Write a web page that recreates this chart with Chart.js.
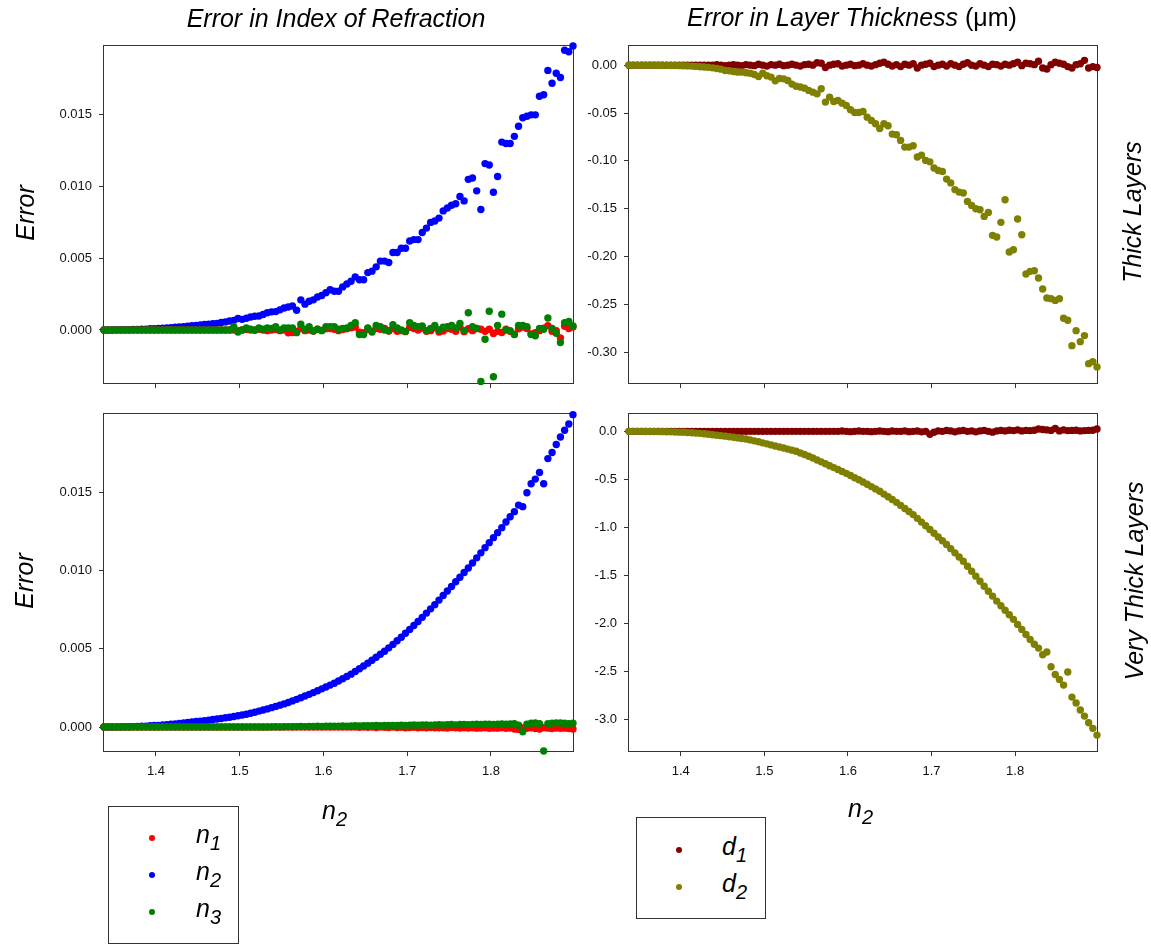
<!DOCTYPE html>
<html>
<head>
<meta charset="utf-8">
<title>Fit errors versus n2</title>
<script src="https://cdn.jsdelivr.net/npm/chart.js@4.4.0/dist/chart.umd.min.js"></script>
<style>
    body { margin: 0; background: #fff; }
    #page { position: relative; width: 1151px; height: 945px; overflow: hidden; font-family: "Liberation Sans", Arial, sans-serif; color: #000; }
    canvas { position: absolute; }
    .lbl { position: absolute; white-space: nowrap; font-style: italic; font-size: 25px; line-height: 25px; }
    .center { transform: translateX(-50%); }
    .vert { transform: translate(-50%, -50%) rotate(-90deg); }
    .sub { font-size: 20px; position: relative; top: 7px; }
    .upright { font-style: normal; }
    .legendBox { position: absolute; border: 1px solid #333; box-sizing: border-box; }
    .dot { position: absolute; width: 6px; height: 6px; border-radius: 50%; margin: -3px 0 0 -3px; }
</style>
</head>
<body>
<div id="page">
    <canvas id="thickIndex" width="600" height="420" style="left:0;top:0"></canvas>
    <canvas id="thickLayer" width="576" height="420" style="left:575px;top:0"></canvas>
    <canvas id="veryThickIndex" width="600" height="420" style="left:0;top:380px"></canvas>
    <canvas id="veryThickLayer" width="576" height="420" style="left:575px;top:380px"></canvas>

    <div class="lbl center" style="left:336px;top:6px">Error in Index of Refraction</div>
    <div class="lbl center" style="left:852px;top:5px">Error in Layer Thickness <span class="upright">(μm)</span></div>

    <div class="lbl vert" style="left:25px;top:213px">Error</div>
    <div class="lbl vert" style="left:24px;top:581px">Error</div>
    <div class="lbl vert" style="left:1132px;top:212px">Thick Layers</div>
    <div class="lbl vert" style="left:1134px;top:581px">Very Thick Layers</div>

    <div class="lbl" style="left:322px;top:798px">n<span class="sub">2</span></div>
    <div class="lbl" style="left:848px;top:796px">n<span class="sub">2</span></div>

    <div class="legendBox" style="left:108px;top:806px;width:131px;height:138px"></div>
    <div class="legendBox" style="left:636px;top:817px;width:130px;height:102px"></div>
    <div id="legends"></div>
</div>

<script>
// n2 sample grid shared by all four panels
const nGrid = [
    1.338, 1.343, 1.348, 1.353, 1.358, 1.363, 1.368, 1.373, 1.378, 1.383,
    1.388, 1.393, 1.398, 1.403, 1.408, 1.413, 1.418, 1.423, 1.428, 1.433,
    1.438, 1.443, 1.448, 1.453, 1.458, 1.463, 1.468, 1.473, 1.478, 1.483,
    1.488, 1.493, 1.498, 1.503, 1.508, 1.513, 1.518, 1.523, 1.528, 1.533,
    1.538, 1.543, 1.548, 1.553, 1.558, 1.563, 1.568, 1.573, 1.578, 1.583,
    1.588, 1.593, 1.598, 1.603, 1.608, 1.613, 1.618, 1.623, 1.628, 1.633,
    1.638, 1.643, 1.648, 1.653, 1.658, 1.663, 1.668, 1.673, 1.678, 1.683,
    1.688, 1.693, 1.698, 1.703, 1.708, 1.713, 1.718, 1.723, 1.728, 1.733,
    1.738, 1.743, 1.748, 1.753, 1.758, 1.763, 1.768, 1.773, 1.778, 1.783,
    1.788, 1.793, 1.798, 1.803, 1.808, 1.813, 1.818, 1.823, 1.828, 1.833,
    1.838, 1.843, 1.848, 1.853, 1.858, 1.863, 1.868, 1.873, 1.878, 1.883,
    1.888, 1.893, 1.898
];

// thick layers
const thickN1 = [
    0, 0, 0, 0, 0, 0, 0, 0, 0, 0,
    0, 0, 0, 0, 0, 0, 0, 0, 0, 0,
    0, 0, 0, 0, 0, 0, 0, 0, 0, 0,
    0, 0, -0.00005, 0, 0.00003, 0, -0.00003, 0.00005, 0, -0.00005,
    0, 0.00003, -0.00005, 0, -0.0002, -0.00018, -0.0001, 0.0001, -0.00005, 0,
    -0.00007, 0.00005, -0.00003, 0.00008, 0.0001, 0.00005, -0.00005, 0.00003, 0.00008, 0.00015,
    0.0002, -0.00015, -0.0002, 0.00005, -0.00008, 0.0001, 0.00005, 0.0001, -0.00008, 0.0001,
    -0.0001, -0.00005, -0.00012, 0.00018, 0.0001, 0, 0.00012, -0.0001, -0.00005, 0.00015,
    -0.00015, -0.00008, 0.0001, 0.00005, -0.0001, 0.0002, -0.00012, 0.00008, -0.00005, 0.0001,
    0.00005, -0.0001, 0.00005, -0.00025, -0.0001, -0.00018, 0.00005, -0.0001, -0.0003, 0.00008,
    0.0002, 0.0001, -0.00028, -0.0002, -0.00005, 0.00012, 0.0003, -0.0001, -0.00005, -0.00055,
    0.00025, 0.0001, 0.0002
];
const thickN2 = [
    0, 0, 0, 0.00001, 0.00001, 0.00002, 0.00002, 0.00003, 0.00004, 0.00005,
    0.00006, 0.00008, 0.00009, 0.00011, 0.00012, 0.00014, 0.00016, 0.00019, 0.00021, 0.00023,
    0.00026, 0.00029, 0.00032, 0.00035, 0.00038, 0.0004, 0.00043, 0.00046, 0.00052, 0.00056,
    0.00062, 0.00067, 0.0008, 0.00074, 0.00082, 0.0009, 0.00095, 0.00097, 0.00108, 0.0012,
    0.00126, 0.00128, 0.0014, 0.00153, 0.0016, 0.00167, 0.00137, 0.0021, 0.0018, 0.002,
    0.0021, 0.0023, 0.0024, 0.0026, 0.0028, 0.0027, 0.0027, 0.003, 0.0032, 0.0034,
    0.0037, 0.0035, 0.0035, 0.004, 0.0041, 0.0044, 0.0048, 0.0048, 0.0047, 0.0054,
    0.0054, 0.0057, 0.0057, 0.0062, 0.0063, 0.0063, 0.0068, 0.0071, 0.0075, 0.0076,
    0.0078, 0.0083, 0.0085, 0.0087, 0.0088, 0.0093, 0.009, 0.0105, 0.0106, 0.0097,
    0.0084, 0.0116, 0.0115, 0.0096, 0.0107, 0.0131, 0.013, 0.013, 0.0135, 0.0142,
    0.0148, 0.0149, 0.015, 0.015, 0.0163, 0.0164, 0.0181, 0.0172, 0.0179, 0.0176,
    0.0195, 0.0194, 0.0198
];
const thickN3 = [
    0, 0, 0, 0, 0, 0, 0, 0, 0, 0,
    0, 0, 0, 0, 0, 0, 0, 0, 0, 0,
    0, 0, 0, 0, 0, 0, 0, 0, 0, 0,
    0, 0.00023, -0.00014, 0, 0.00014, 0.00005, 0, 0.00014, 0.00005, 0.00014,
    0.0001, 0.00023, 0, 0.00014, 0.00014, 0.00014, -0.00019, 0.0004, 0.00005, 0.00023,
    -0.00007, 0.00005, -0.00005, 0.00023, 0.00023, 0.00023, 0.00005, 0.0001, 0.00014, 0.00032,
    0.0005, -0.00032, -0.00032, 0.00014, -0.00014, 0.00032, 0.00023, 0, -0.00005, 0.00037,
    0.00014, 0, -0.0001, 0.0005, 0.00032, 0.00023, 0.00028, -0.00005, 0.0001, 0.00032,
    0, 0.00019, 0.00023, 0.00032, 0.00014, 0.00046, -0.00005, 0.0012, 0.00023, 0.0001,
    -0.0036, -0.00065, 0.0013, -0.00326, 0.00032, 0.0011, 0, -0.00005, -0.00032, 0.00032,
    0.00032, 0.00023, -0.00032, -0.0004, 0.0001, 0.00005, 0.00083, 0.0001, -0.00023, -0.00088,
    0.0005, 0.0006, 0.00028
];
const thickD1 = [
    0, 0, 0, 0, 0, 0, 0, 0, 0, 0,
    0, 0, 0, 0, 0, 0, 0, 0, 0, 0,
    0, 0.0005, 0, -0.0005, 0, 0.0005, 0, -0.0005, 0.0005, 0,
    -0.0005, 0.001, 0, -0.001, 0.0005, 0, 0.001, -0.0005, 0, 0.001,
    0, -0.001, 0.0005, 0.001, 0, 0.0025, 0.002, -0.0025, 0, 0.001,
    0.0015, -0.001, 0, 0.001, -0.0005, 0, 0.0015, 0, -0.001, 0.0005,
    0.002, 0.003, 0.001, -0.001, 0.0005, -0.0015, 0.001, 0, 0.0015, -0.003,
    0, 0.001, 0.002, -0.0015, 0, 0.001, -0.001, 0.0015, 0, -0.0015,
    0.001, 0.0025, 0, -0.001, 0.0015, 0, -0.0015, 0.001, 0.0005, -0.001,
    0.001, 0, 0.0015, 0.003, -0.0005, 0.002, 0.0015, 0.0005, 0.004, -0.003,
    -0.004, 0.0005, 0.003, 0.002, 0.001, -0.0015, -0.003, 0.0005, 0.0015, 0.005,
    -0.003, -0.0015, -0.0025
];
const thickD2 = [
    0, 0, 0, 0, 0, 0, 0, -0.0001, -0.0001, -0.0002,
    -0.0003, -0.0004, -0.0005, -0.0006, -0.0008, -0.001, -0.0013, -0.0016, -0.002, -0.0023,
    -0.0028, -0.0035, -0.0042, -0.0056, -0.0058, -0.0066, -0.0073, -0.0072, -0.008, -0.0084,
    -0.0098, -0.0118, -0.0084, -0.011, -0.0125, -0.0164, -0.014, -0.0143, -0.016, -0.0198,
    -0.022, -0.0228, -0.024, -0.0264, -0.0282, -0.03, -0.0247, -0.0386, -0.0334, -0.038,
    -0.0369, -0.0397, -0.0421, -0.0466, -0.0494, -0.0494, -0.0484, -0.0543, -0.0578, -0.0612,
    -0.0661, -0.0612, -0.0633, -0.072, -0.0727, -0.0786, -0.0856, -0.0856, -0.0842, -0.096,
    -0.094, -0.0995, -0.101, -0.1075, -0.11, -0.111, -0.119, -0.123, -0.13, -0.1326,
    -0.1336, -0.1423, -0.1465, -0.15, -0.151, -0.158, -0.1538, -0.1778, -0.1795, -0.1642,
    -0.1406, -0.1952, -0.1928, -0.1607, -0.1771, -0.2182, -0.2154, -0.2147, -0.2223, -0.2338,
    -0.2432, -0.2439, -0.2457, -0.2439, -0.2644, -0.2665, -0.293, -0.2773, -0.2888, -0.2825,
    -0.3118, -0.3097, -0.3152
];

// very thick layers
const veryThickN1 = [
    0, 0, 0, 0, 0, 0, 0, 0, 0, 0,
    0, 0, 0, 0, 0, 0, 0, 0, 0, 0,
    0, 0, 0, 0, 0, 0, 0, 0, 0, 0,
    0, 0, 0, 0, 0, 0, 0, 0, 0, 0,
    0, 0, 0, 0, 0, 0, 0, 0, 0, 0,
    0, 0, 0, 0, 0, 0, 0, 0, 0, 0,
    0, -0.00002, 0, -0.00002, 0, -0.00003, 0, -0.00002, -0.00003, 0,
    -0.00003, -0.00002, -0.00004, -0.00003, -0.00002, -0.00004, -0.00003, -0.00005, -0.00003, -0.00004,
    -0.00005, -0.00004, -0.00006, -0.00003, -0.00005, -0.00006, -0.00004, -0.00006, -0.00005, -0.00007,
    -0.00006, -0.00005, -0.00008, -0.00006, -0.00007, -0.00005, -0.00008, -0.00006, -0.00012, -0.00015,
    -0.00006, -0.00008, -0.00005, -0.0001, -0.00012, -0.00004, -0.00007, -0.00009, -0.00006, -0.00008,
    -0.00007, -0.0001, -0.00012
];
const veryThickN2 = [
    0, 0, 0, 0.00001, 0.00001, 0.00002, 0.00002, 0.00003, 0.00004, 0.00005,
    0.00006, 0.00008, 0.0001, 0.00011, 0.00013, 0.00015, 0.00018, 0.0002, 0.00023, 0.00026,
    0.00029, 0.00032, 0.00035, 0.00038, 0.00041, 0.00044, 0.00048, 0.00051, 0.00055, 0.00059,
    0.00063, 0.00067, 0.00072, 0.00077, 0.00082, 0.00088, 0.00095, 0.00102, 0.00109, 0.00116,
    0.00124, 0.00132, 0.0014, 0.00148, 0.00157, 0.00167, 0.00177, 0.00187, 0.00198, 0.00209,
    0.0022, 0.00232, 0.00244, 0.00256, 0.00268, 0.0028, 0.00294, 0.00309, 0.00323, 0.00338,
    0.00355, 0.00372, 0.0039, 0.00408, 0.00427, 0.00446, 0.00465, 0.00484, 0.00506, 0.00528,
    0.00551, 0.00574, 0.00599, 0.00624, 0.00649, 0.00674, 0.00701, 0.00728, 0.00755, 0.00782,
    0.00811, 0.0084, 0.00869, 0.00898, 0.00928, 0.00957, 0.00987, 0.01016, 0.01048, 0.01081,
    0.01113, 0.01146, 0.01178, 0.0121, 0.01242, 0.01274, 0.0131, 0.01344, 0.01376, 0.01418,
    0.01408, 0.01497, 0.01554, 0.01584, 0.01626, 0.01554, 0.01715, 0.01754, 0.01805, 0.01853,
    0.01896, 0.01936, 0.01996
];
const veryThickN3 = [
    0, 0, 0, 0, 0, 0, 0, 0, 0, 0,
    0, 0, 0, 0, 0, 0, 0, 0, 0, 0,
    0, 0, 0, 0, 0, 0, 0, 0, 0, 0,
    0, 0, 0, 0, 0, 0, 0, 0, 0, 0,
    0.00001, 0.00002, 0.00001, 0.00002, 0.00003, 0.00002, 0.00003, 0.00004, 0.00003, 0.00004,
    0.00004, 0.00005, 0.00004, 0.00005, 0.00006, 0.00005, 0.00006, 0.00007, 0.00006, 0.00007,
    0.00008, 0.00007, 0.00008, 0.00009, 0.00008, 0.0001, 0.00009, 0.0001, 0.00011, 0.0001,
    0.00011, 0.00012, 0.00011, 0.00012, 0.00013, 0.00012, 0.00013, 0.00014, 0.00012, 0.00014,
    0.00015, 0.00013, 0.00015, 0.00016, 0.00014, 0.00016, 0.00017, 0.00015, 0.00017, 0.00018,
    0.00016, 0.00018, 0.00019, 0.00017, 0.00019, 0.0002, 0.00018, 0.0002, 0.00022, 0.00012,
    -0.0003, 0.00018, 0.00024, 0.00026, 0.00022, -0.00153, 0.00021, 0.00025, 0.00027, 0.00026,
    0.00024, 0.00022, 0.00025
];
const veryThickD1 = [
    0, 0, 0, 0, 0, 0, 0, 0, 0, 0,
    0, 0, 0, 0, 0, 0, 0, 0, 0, 0,
    0, 0, 0, 0, 0, 0, 0, 0, 0, 0,
    0, 0, 0, 0, 0, 0, 0, 0, 0, 0,
    0, 0, 0, 0, 0, 0, 0, 0, 0, 0,
    0, 0.003, 0, -0.003, 0, 0.003, 0, 0, -0.003, 0,
    0.003, 0, -0.003, 0.003, 0, 0, 0.005, -0.003, 0, 0.003,
    -0.005, 0, -0.03, -0.01, 0.005, 0, 0.01, 0.005, -0.005, 0.005,
    0.01, 0, 0.005, -0.005, 0.005, 0.01, 0, -0.008, 0.005, 0.01,
    0.005, 0.012, 0.008, 0.015, 0.005, 0.01, 0.008, 0.012, 0.025, 0.02,
    0.015, 0.01, 0.03, 0.005, 0.015, 0.008, 0.01, 0.012, 0.005, 0.008,
    0.01, 0.012, 0.025
];
const veryThickD2 = [
    0, 0, 0, 0, -0.001, -0.001, -0.002, -0.002, -0.003, -0.004,
    -0.005, -0.006, -0.008, -0.01, -0.013, -0.015, -0.018, -0.021, -0.025, -0.03,
    -0.035, -0.04, -0.045, -0.05, -0.056, -0.062, -0.068, -0.074, -0.08, -0.089,
    -0.099, -0.109, -0.12, -0.13, -0.141, -0.152, -0.163, -0.174, -0.185, -0.196,
    -0.208, -0.225, -0.242, -0.26, -0.278, -0.298, -0.318, -0.338, -0.358, -0.378,
    -0.398, -0.418, -0.438, -0.46, -0.483, -0.505, -0.528, -0.552, -0.576, -0.6,
    -0.625, -0.654, -0.682, -0.711, -0.74, -0.772, -0.804, -0.836, -0.868, -0.907,
    -0.946, -0.985, -1.024, -1.063, -1.102, -1.141, -1.18, -1.223, -1.267, -1.31,
    -1.354, -1.406, -1.458, -1.51, -1.563, -1.615, -1.667, -1.718, -1.77, -1.818,
    -1.865, -1.913, -1.96, -2.013, -2.065, -2.118, -2.17, -2.22, -2.26, -2.33,
    -2.3, -2.455, -2.535, -2.587, -2.646, -2.51, -2.771, -2.833, -2.906, -2.969,
    -3.038, -3.097, -3.167
];

// tick labels
const nTicks = [1.4, 1.5, 1.6, 1.7, 1.8];
const indexTicks = [0, 0.005, 0.010, 0.015];
const thickLayerTicks = [0, -0.05, -0.10, -0.15, -0.20, -0.25, -0.30];
const veryThickLayerTicks = [0, -0.5, -1.0, -1.5, -2.0, -2.5, -3.0];

const seriesColors = { n1: '#ff0000', n2: '#0000ff', n3: '#008000', d1: '#800000', d2: '#808000' };

const tickFont = { family: '"Liberation Sans", Arial, sans-serif', size: 13 };

// box around the plotting area, drawn under the points
const framePlugin = {
    id: 'frame',
    beforeDatasetsDraw(chart) {
        const a = chart.chartArea;
        const ctx = chart.ctx;
        ctx.save();
        ctx.strokeStyle = '#333';
        ctx.lineWidth = 1;
        ctx.strokeRect(Math.round(a.left) - 0.5, Math.round(a.top) - 0.5,
            Math.round(a.right - a.left) + 1, Math.round(a.bottom - a.top) + 1);
        ctx.restore();
    }
};

function makePanel(id, panel) {
    const datasets = panel.series.map(s => ({
        data: nGrid.map((x, i) => ({ x: x, y: s.values[i] })),
        backgroundColor: s.color,
        borderWidth: 0,
        pointRadius: 3.7,
        pointHoverRadius: 3.7,
        pointBorderWidth: 0,
        order: s.order,
        clip: false
    }));

    return new Chart(document.getElementById(id), {
        type: 'scatter',
        data: { datasets },
        options: {
            responsive: false,
            animation: false,
            events: [],
            layout: { padding: panel.padding },
            plugins: {
                legend: { display: false },
                tooltip: { enabled: false }
            },
            scales: {
                x: {
                    type: 'linear',
                    min: 1.338,
                    max: 1.898,
                    afterBuildTicks: scale => { scale.ticks = nTicks.map(v => ({ value: v })); },
                    afterFit: scale => { scale.height = 30; },
                    border: { display: false },
                    grid: { drawOnChartArea: false, drawTicks: true, tickLength: 5, color: '#333' },
                    ticks: {
                        display: panel.showX,
                        padding: 8,
                        color: '#111',
                        font: tickFont,
                        maxRotation: 0,
                        callback: v => v.toFixed(1)
                    }
                },
                y: {
                    min: panel.yMin,
                    max: panel.yMax,
                    afterBuildTicks: scale => { scale.ticks = panel.yTicks.map(v => ({ value: v })); },
                    afterFit: scale => { scale.width = panel.yWidth; },
                    border: { display: false },
                    grid: { drawOnChartArea: false, drawTicks: true, tickLength: 5, color: '#333' },
                    ticks: {
                        padding: 7,
                        color: '#111',
                        font: tickFont,
                        callback: v => v.toFixed(panel.digits)
                    }
                }
            }
        },
        plugins: [framePlugin]
    });
}

function indexSeries(n1, n2, n3) {
    return [
        { values: n1, color: seriesColors.n1, order: 1 },
        { values: n2, color: seriesColors.n2, order: 2 },
        { values: n3, color: seriesColors.n3, order: 0 }
    ];
}

function layerSeries(d1, d2) {
    return [
        { values: d1, color: seriesColors.d1, order: 1 },
        { values: d2, color: seriesColors.d2, order: 0 }
    ];
}

function renderLegends() {
    const rows = [
        { x: 152, y: 838, tx: 196, key: 'n1', letter: 'n', idx: '1' },
        { x: 152, y: 875, tx: 196, key: 'n2', letter: 'n', idx: '2' },
        { x: 152, y: 912, tx: 196, key: 'n3', letter: 'n', idx: '3' },
        { x: 679, y: 850, tx: 722, key: 'd1', letter: 'd', idx: '1' },
        { x: 679, y: 887, tx: 722, key: 'd2', letter: 'd', idx: '2' }
    ];
    document.getElementById('legends').innerHTML = rows.map(r => `
        <div class="dot" style="left:${r.x}px;top:${r.y}px;background:${seriesColors[r.key]}"></div>
        <div class="lbl" style="left:${r.tx}px;top:${r.y + 5 - 21}px">${r.letter}<span class="sub">${r.idx}</span></div>
    `).join('');
}

document.addEventListener('DOMContentLoaded', () => {
    makePanel('thickIndex', {
        series: indexSeries(thickN1, thickN2, thickN3),
        yMin: -0.0037, yMax: 0.0198, yTicks: indexTicks, digits: 3,
        yWidth: 60, showX: false,
        padding: { left: 44, top: 46, right: 27, bottom: 7 }
    });
    makePanel('thickLayer', {
        series: layerSeries(thickD1, thickD2),
        yMin: -0.332, yMax: 0.020, yTicks: thickLayerTicks, digits: 2,
        yWidth: 50, showX: false,
        padding: { left: 4, top: 46, right: 54, bottom: 7 }
    });
    makePanel('veryThickIndex', {
        series: indexSeries(veryThickN1, veryThickN2, veryThickN3),
        yMin: -0.00153, yMax: 0.0200, yTicks: indexTicks, digits: 3,
        yWidth: 60, showX: true,
        padding: { left: 44, top: 34, right: 27, bottom: 19 }
    });
    makePanel('veryThickLayer', {
        series: layerSeries(veryThickD1, veryThickD2),
        yMin: -3.333, yMax: 0.181, yTicks: veryThickLayerTicks, digits: 1,
        yWidth: 50, showX: true,
        padding: { left: 4, top: 34, right: 54, bottom: 19 }
    });
    renderLegends();
});
</script>
</body>
</html>
